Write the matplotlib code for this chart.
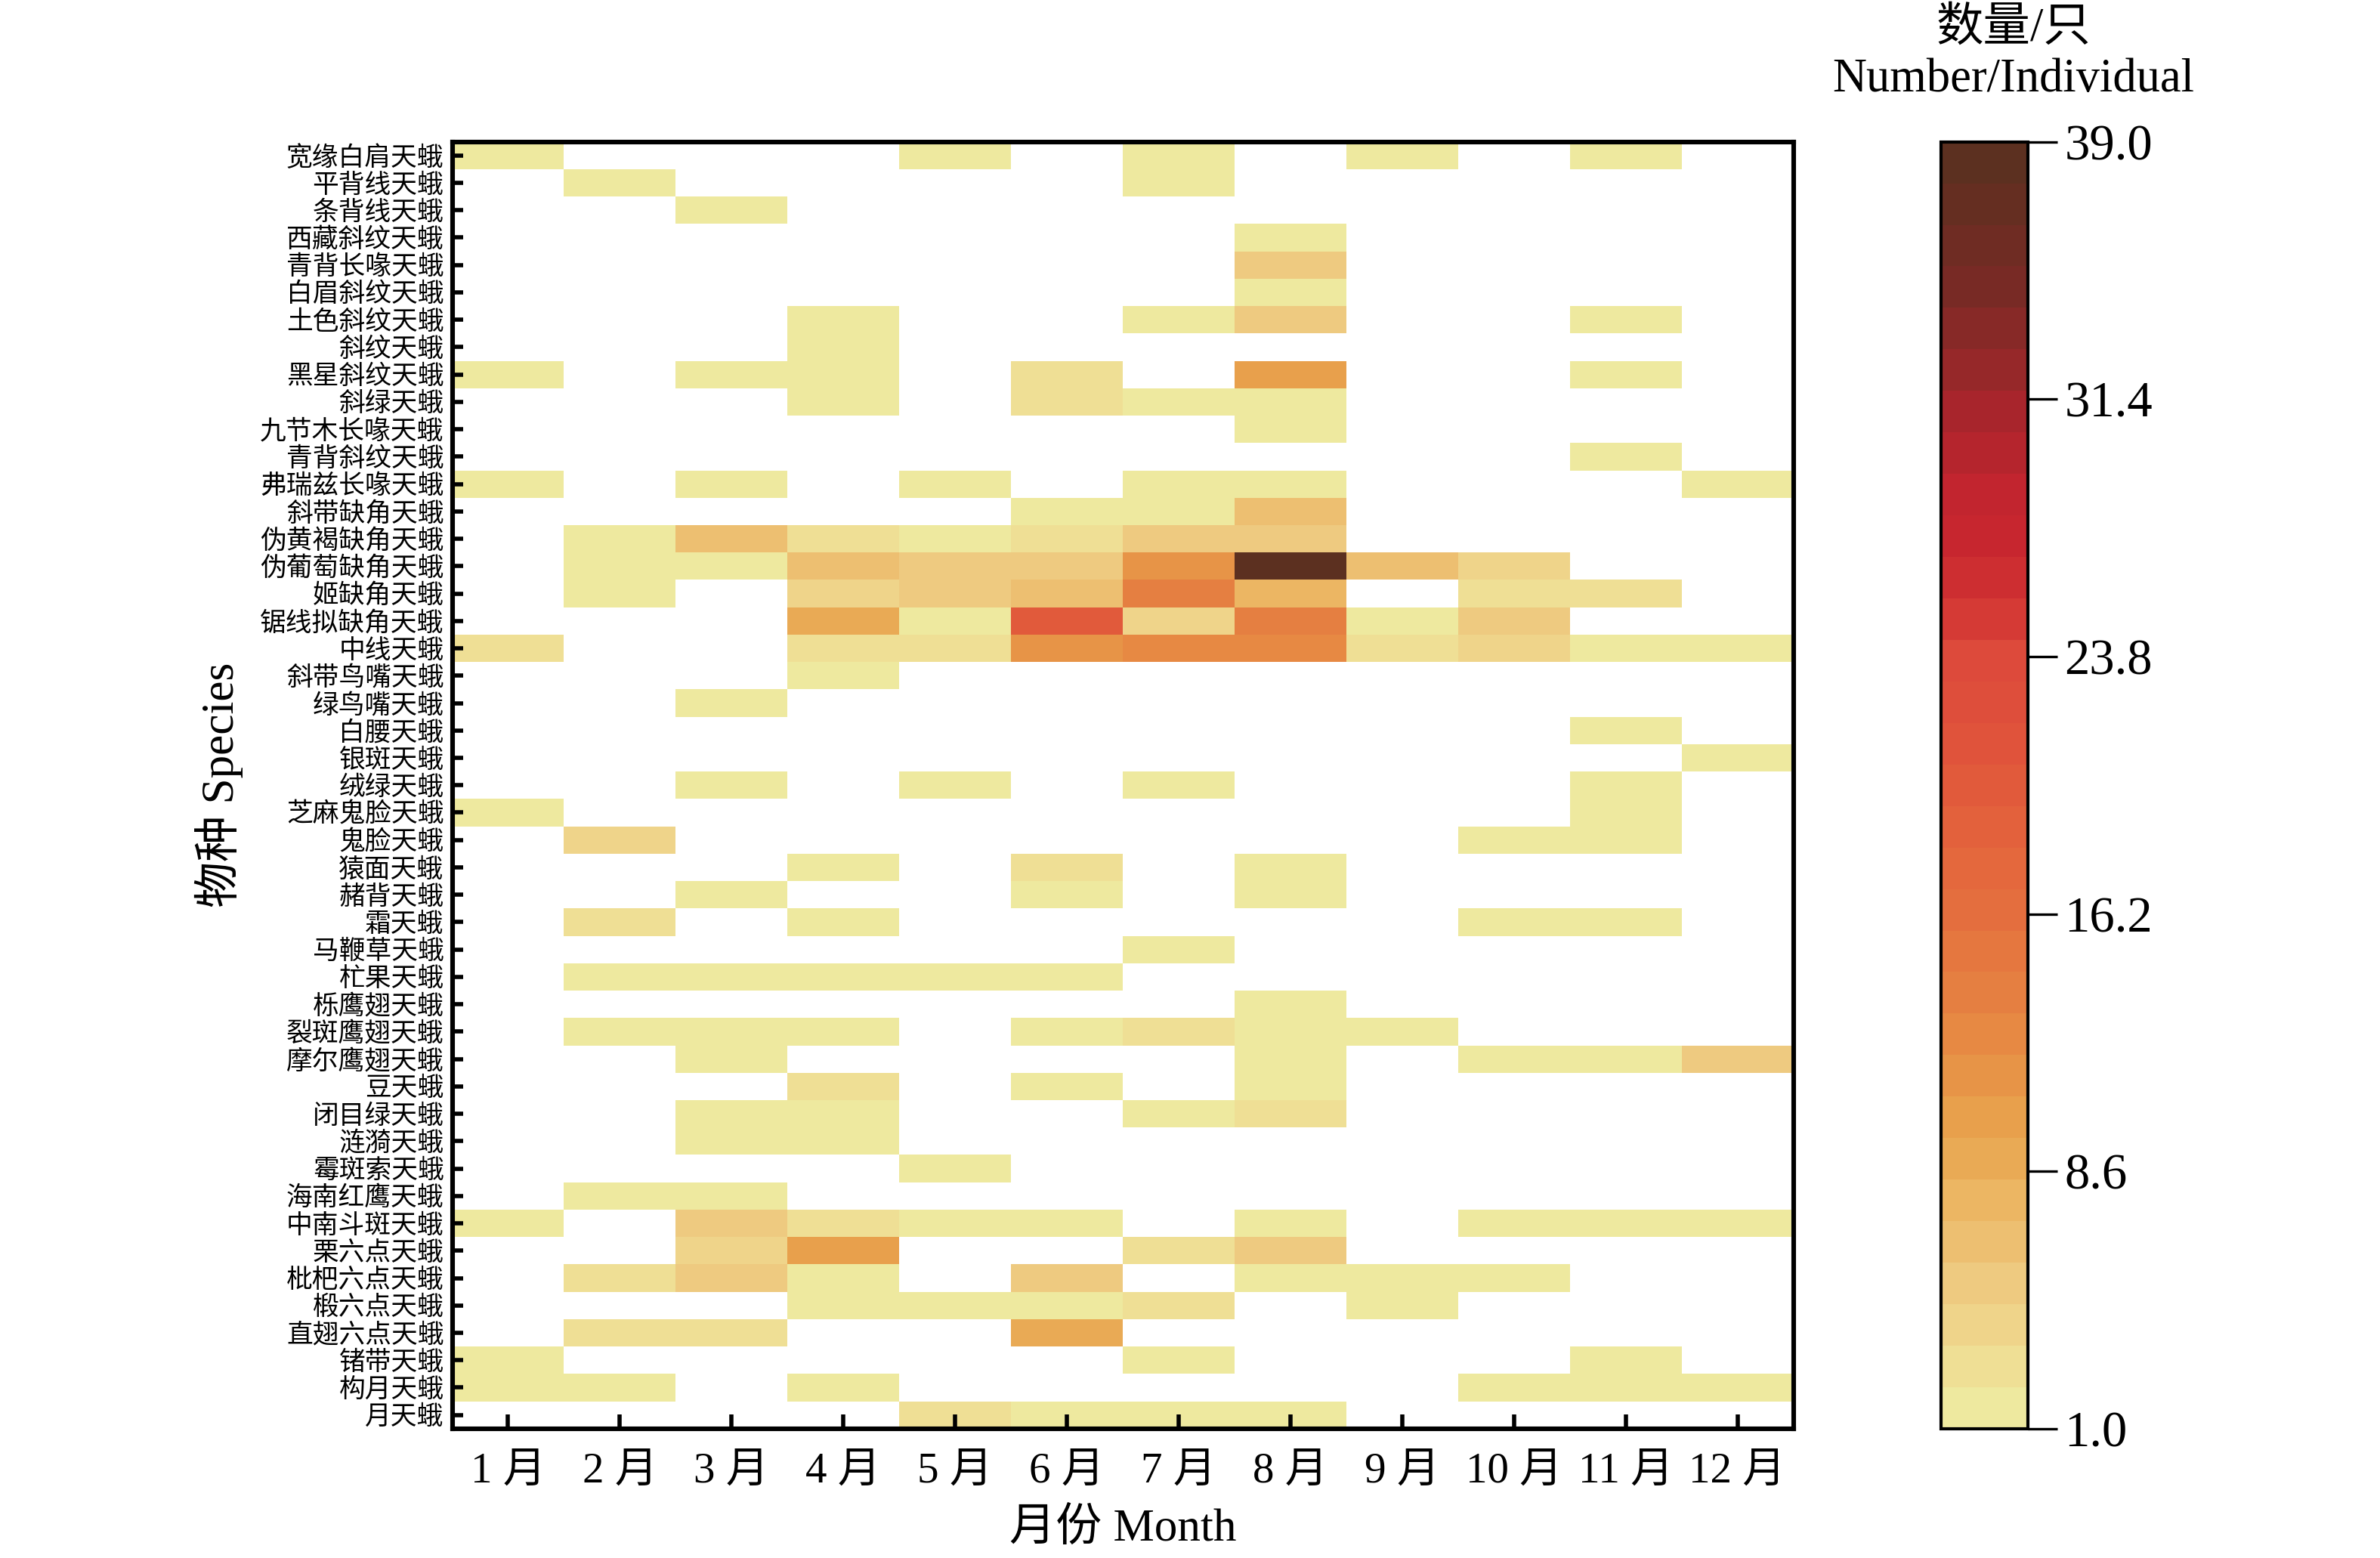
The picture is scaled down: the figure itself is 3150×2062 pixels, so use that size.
import numpy as np
import matplotlib
matplotlib.use('Agg')
import matplotlib.pyplot as plt
from matplotlib.colors import LinearSegmentedColormap, ListedColormap, Normalize

plt.rcParams['font.family'] = ['Liberation Serif', 'Noto Sans CJK SC']

species = ['宽缘白肩天蛾', '平背线天蛾', '条背线天蛾', '西藏斜纹天蛾', '青背长喙天蛾',
           '白眉斜纹天蛾', '土色斜纹天蛾', '斜纹天蛾', '黑星斜纹天蛾', '斜绿天蛾',
           '九节木长喙天蛾', '青背斜纹天蛾', '弗瑞兹长喙天蛾', '斜带缺角天蛾', '伪黄褐缺角天蛾',
           '伪葡萄缺角天蛾', '姬缺角天蛾', '锯线拟缺角天蛾', '中线天蛾', '斜带鸟嘴天蛾',
           '绿鸟嘴天蛾', '白腰天蛾', '银斑天蛾', '绒绿天蛾', '芝麻鬼脸天蛾',
           '鬼脸天蛾', '猿面天蛾', '赭背天蛾', '霜天蛾', '马鞭草天蛾',
           '杧果天蛾', '栎鹰翅天蛾', '裂斑鹰翅天蛾', '摩尔鹰翅天蛾', '豆天蛾',
           '闭目绿天蛾', '涟漪天蛾', '霉斑索天蛾', '海南红鹰天蛾', '中南斗斑天蛾',
           '栗六点天蛾', '枇杷六点天蛾', '椴六点天蛾', '直翅六点天蛾', '锗带天蛾',
           '构月天蛾', '月天蛾']

months = ['1 月', '2 月', '3 月', '4 月', '5 月', '6 月',
          '7 月', '8 月', '9 月', '10 月', '11 月', '12 月']

# individuals per species per month (Jan..Dec), 0 = not recorded
counts = [
    [1, 0, 0, 0, 1, 0, 1, 0, 1, 0, 1, 0],
    [0, 1, 0, 0, 0, 0, 1, 0, 0, 0, 0, 0],
    [0, 0, 1, 0, 0, 0, 0, 0, 0, 0, 0, 0],
    [0, 0, 0, 0, 0, 0, 0, 1, 0, 0, 0, 0],
    [0, 0, 0, 0, 0, 0, 0, 5, 0, 0, 0, 0],
    [0, 0, 0, 0, 0, 0, 0, 1, 0, 0, 0, 0],
    [0, 0, 0, 1, 0, 0, 1, 5, 0, 0, 1, 0],
    [0, 0, 0, 1, 0, 0, 0, 0, 0, 0, 0, 0],
    [1, 0, 1, 1, 0, 3, 0, 10, 0, 0, 1, 0],
    [0, 0, 0, 1, 0, 3, 1, 1, 0, 0, 0, 0],
    [0, 0, 0, 0, 0, 0, 0, 1, 0, 0, 0, 0],
    [0, 0, 0, 0, 0, 0, 0, 0, 0, 0, 1, 0],
    [1, 0, 1, 0, 1, 0, 1, 1, 0, 0, 0, 1],
    [0, 0, 0, 0, 0, 1, 1, 6, 0, 0, 0, 0],
    [0, 1, 6, 3, 2, 3, 5, 5, 0, 0, 0, 0],
    [0, 1, 1, 7, 5, 5, 11, 39, 7, 4, 0, 0],
    [0, 1, 0, 4, 5, 6, 14, 8, 0, 3, 3, 0],
    [0, 0, 0, 9, 1, 20, 4, 14, 1, 5, 0, 0],
    [3, 0, 0, 3, 3, 12, 13, 13, 3, 4, 1, 1],
    [0, 0, 0, 1, 0, 0, 0, 0, 0, 0, 0, 0],
    [0, 0, 1, 0, 0, 0, 0, 0, 0, 0, 0, 0],
    [0, 0, 0, 0, 0, 0, 0, 0, 0, 0, 1, 0],
    [0, 0, 0, 0, 0, 0, 0, 0, 0, 0, 0, 1],
    [0, 0, 1, 0, 1, 0, 1, 0, 0, 0, 1, 0],
    [1, 0, 0, 0, 0, 0, 0, 0, 0, 0, 2, 0],
    [0, 4, 0, 0, 0, 0, 0, 0, 0, 1, 2, 0],
    [0, 0, 0, 1, 0, 3, 0, 1, 0, 0, 0, 0],
    [0, 0, 1, 0, 0, 1, 0, 1, 0, 0, 0, 0],
    [0, 3, 0, 1, 0, 0, 0, 0, 0, 1, 1, 0],
    [0, 0, 0, 0, 0, 0, 1, 0, 0, 0, 0, 0],
    [0, 1, 1, 1, 1, 1, 0, 0, 0, 0, 0, 0],
    [0, 0, 0, 0, 0, 0, 0, 1, 0, 0, 0, 0],
    [0, 1, 1, 1, 0, 1, 3, 1, 1, 0, 0, 0],
    [0, 0, 1, 0, 0, 0, 0, 1, 0, 1, 1, 5],
    [0, 0, 0, 3, 0, 1, 0, 1, 0, 0, 0, 0],
    [0, 0, 1, 1, 0, 0, 1, 3, 0, 0, 0, 0],
    [0, 0, 1, 1, 0, 0, 0, 0, 0, 0, 0, 0],
    [0, 0, 0, 0, 1, 0, 0, 0, 0, 0, 0, 0],
    [0, 1, 1, 0, 0, 0, 0, 0, 0, 0, 0, 0],
    [1, 0, 5, 3, 1, 1, 0, 1, 0, 1, 1, 2],
    [0, 0, 4, 10, 0, 0, 3, 5, 0, 0, 0, 0],
    [0, 3, 5, 1, 0, 5, 0, 1, 2, 1, 0, 0],
    [0, 0, 0, 1, 1, 1, 3, 0, 1, 0, 0, 0],
    [0, 3, 3, 0, 0, 9, 0, 0, 0, 0, 0, 0],
    [1, 0, 0, 0, 0, 0, 1, 0, 0, 0, 1, 0],
    [1, 1, 0, 1, 0, 0, 0, 0, 0, 1, 1, 1],
    [0, 0, 0, 0, 3, 1, 1, 1, 0, 0, 0, 0],
]

cb_ticks = [1.0, 8.6, 16.2, 23.8, 31.4, 39.0]

# colour ramp
anchors = [(1, '#eee99f'), (3, '#efd88f'), (5, '#eec87e'), (7, '#ecb866'),
           (8.6, '#e9aa55'), (10, '#e89e4a'), (12, '#e78c44'), (14, '#e57c40'),
           (16.2, '#e46e3e'), (19, '#e3603c'), (21, '#e0543b'), (23.8, '#dd4a3b'),
           (25, '#d63b35'), (27, '#c9272f'), (29, '#c2252f'), (31.4, '#a8252c'),
           (33, '#932828'), (35, '#7a2a25'), (37, '#6b2d22'), (39, '#5c3020')]
smooth = LinearSegmentedColormap.from_list(
    'moth', [((v - 1) / 38, c) for v, c in anchors])
cmap = ListedColormap(smooth(np.linspace(0, 1, 31)))
norm = Normalize(vmin=1, vmax=39)

data = np.ma.masked_equal(np.array(counts, dtype=float), 0)

fig = plt.figure(figsize=(15.75, 10.31), dpi=200)
ax = fig.add_axes([0.190, 0.083, 0.5635, 0.826])
ax.pcolormesh(np.arange(13), np.arange(len(species) + 1), data,
              cmap=cmap, norm=norm)
ax.set_xlim(0, 12)
ax.set_ylim(len(species), 0)

ax.set_xticks(np.arange(12) + 0.5)
ax.set_xticklabels(months, fontsize=20.5)
ax.set_yticks(np.arange(len(species)) + 0.5)
ax.set_yticklabels(species, fontsize=12.5)
ax.tick_params(axis='x', direction='in', length=7, width=2, pad=11)
ax.tick_params(axis='y', direction='in', length=5, width=2, pad=4)
for s in ax.spines.values():
    s.set_linewidth(2.2)

ax.set_xlabel('月份 Month', fontsize=22, labelpad=8)
ax.set_ylabel('物种 Species', fontsize=22, labelpad=8)

cax = fig.add_axes([0.8155, 0.083, 0.0365, 0.826])
cb = fig.colorbar(plt.cm.ScalarMappable(norm=norm, cmap=cmap), cax=cax)
cb.set_ticks(cb_ticks)
cb.set_ticklabels(['%.1f' % t for t in cb_ticks])
cb.ax.tick_params(labelsize=24, length=14, width=1.2, direction='out')
cb.outline.set_linewidth(1.5)

fig.text(0.846, 0.974, '数量/只', fontsize=22.5, ha='center', va='baseline')
fig.text(0.846, 0.9415, 'Number/Individual', fontsize=22.5, ha='center', va='baseline')

fig.savefig('out.png', dpi=200)
